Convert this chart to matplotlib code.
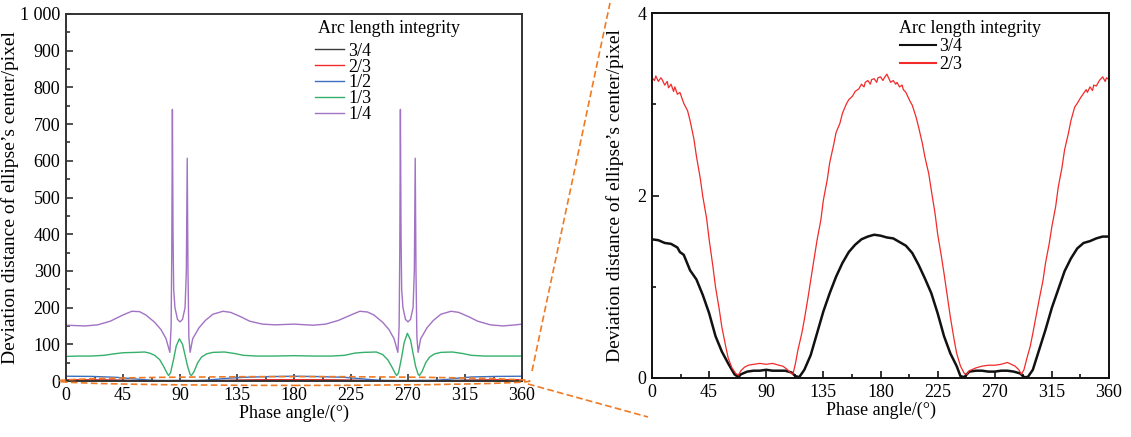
import matplotlib
matplotlib.use("Agg")
import matplotlib.pyplot as plt
from matplotlib.patches import Ellipse
from matplotlib.lines import Line2D
from matplotlib.ticker import MultipleLocator, FuncFormatter

plt.rcParams["font.family"] = ["Liberation Serif", "DejaVu Serif"]
plt.rcParams["mathtext.fontset"] = "stix"

# ---------------- data ----------------
# Arc length integrity 3/4
phase_34 = [0, 5, 10, 15, 20, 22, 25, 30, 35, 40, 45, 50, 55, 60, 65, 68, 70, 75, 80,
            85, 90, 95, 100, 105, 110, 113, 116, 120, 125, 130, 135, 140, 145, 150, 155,
            160, 165, 170, 175, 180, 185, 190, 195, 200, 205, 210, 215, 220, 225, 230,
            235, 240, 243, 246, 250, 255, 260, 265, 270, 275, 280, 285, 290, 293, 296,
            300, 305, 310, 315, 320, 325, 330, 335, 340, 345, 350, 355, 360]
dev_34 = [1.52, 1.51, 1.48, 1.47, 1.43, 1.38, 1.35, 1.18, 1.08, 0.91, 0.71, 0.46, 0.29,
          0.16, 0.04, 0.01, 0.04, 0.07, 0.08, 0.08, 0.09, 0.08, 0.08, 0.08, 0.06, 0.02,
          0.01, 0.09, 0.25, 0.49, 0.73, 0.93, 1.11, 1.26, 1.38, 1.46, 1.52, 1.55, 1.57,
          1.56, 1.54, 1.53, 1.49, 1.45, 1.37, 1.24, 1.09, 0.93, 0.71, 0.46, 0.27, 0.13,
          0.02, 0.01, 0.07, 0.08, 0.08, 0.07, 0.07, 0.08, 0.08, 0.07, 0.05, 0.01, 0.01,
          0.09, 0.31, 0.53, 0.77, 0.97, 1.17, 1.31, 1.42, 1.48, 1.50, 1.53, 1.55, 1.55]

# Arc length integrity 2/3
phase_23 = [0, 2, 3, 5, 7, 8, 10, 12, 13, 15, 17, 18, 20, 22, 25, 28, 30, 33, 35, 38, 40,
            43, 45, 48, 50, 53, 55, 58, 60, 63, 66, 68, 70, 73, 76, 80, 85, 90, 95, 100,
            103, 106, 109, 111, 113, 115, 118, 120, 123, 125, 128, 130, 133, 135, 138,
            140, 143, 145, 148, 150, 153, 155, 158, 160, 163, 165, 167, 168, 170, 172,
            173, 175, 177, 178, 180, 182, 183, 185, 187, 188, 190, 192, 193, 195, 197,
            198, 200, 203, 205, 208, 210, 213, 215, 218, 220, 223, 225, 228, 230, 233,
            235, 238, 240, 243, 246, 248, 250, 255, 260, 265, 270, 275, 280, 283, 286,
            289, 291, 293, 295, 298, 300, 303, 305, 308, 310, 313, 315, 318, 320, 323,
            325, 328, 330, 333, 335, 338, 340, 342, 343, 345, 347, 348, 350, 352, 353,
            355, 357, 358, 360]
dev_23 = [3.29, 3.26, 3.31, 3.25, 3.29, 3.27, 3.21, 3.25, 3.18, 3.22, 3.14, 3.19, 3.11,
          3.13, 3.01, 2.93, 2.82, 2.62, 2.43, 2.19, 1.99, 1.75, 1.52, 1.22, 1.00, 0.75,
          0.56, 0.35, 0.22, 0.11, 0.05, 0.03, 0.08, 0.12, 0.14, 0.15, 0.16, 0.15, 0.16,
          0.14, 0.13, 0.10, 0.06, 0.04, 0.16, 0.31, 0.49, 0.64, 0.89, 1.07, 1.33, 1.51,
          1.73, 1.95, 2.17, 2.36, 2.55, 2.69, 2.79, 2.90, 3.00, 3.05, 3.09, 3.14, 3.17,
          3.22, 3.19, 3.24, 3.26, 3.22, 3.27, 3.28, 3.24, 3.29, 3.30, 3.26, 3.29, 3.33,
          3.27, 3.24, 3.26, 3.22, 3.24, 3.19, 3.21, 3.16, 3.13, 3.04, 2.99, 2.86, 2.75,
          2.57, 2.42, 2.24, 2.06, 1.80, 1.58, 1.33, 1.15, 0.86, 0.67, 0.42, 0.27, 0.13,
          0.05, 0.04, 0.08, 0.11, 0.13, 0.14, 0.14, 0.15, 0.17, 0.15, 0.13, 0.09, 0.04,
          0.09, 0.20, 0.35, 0.49, 0.71, 0.86, 1.07, 1.26, 1.48, 1.66, 1.88, 2.09, 2.31,
          2.50, 2.68, 2.82, 2.97, 3.01, 3.08, 3.12, 3.16, 3.13, 3.19, 3.15, 3.21, 3.20,
          3.25, 3.27, 3.30, 3.25, 3.29, 3.27]

# Arc length integrity 1/2
phase_12 = [0, 20, 40, 50, 60, 70, 80, 90, 100, 110, 120, 130, 140, 160, 180, 200, 220,
            230, 240, 250, 260, 270, 280, 290, 300, 310, 320, 340, 360]
dev_12 = [13, 12.5, 10, 7, 4, 1.5, 1, 1.5, 1, 2, 5, 8, 10, 12, 13, 12, 10, 7, 4, 1.5, 1,
          1, 1.5, 1.5, 4, 8, 11, 12.5, 13]

# Arc length integrity 1/3
phase_13 = [0, 10, 20, 30, 38, 45, 55, 62, 66, 70, 74, 77, 80, 81, 82.5, 85, 87, 89.5,
            92, 94, 96, 98, 99, 101, 104, 107, 111, 116, 125, 133, 140, 150, 165, 180,
            195, 210, 220, 228, 235, 245, 250, 254, 257, 260, 261, 262.5, 265, 267,
            269.5, 272, 274, 276, 278, 279, 281, 284, 287, 291, 296, 305, 313, 320, 330,
            345, 360]
dev_13 = [67, 68, 68, 70, 74, 77, 78, 79, 76, 70, 58, 40, 20, 15, 22, 60, 95, 115, 100,
          70, 40, 18, 15, 25, 50, 65, 74, 78, 79, 75, 70, 68, 68, 69, 68, 68, 70, 76, 78,
          79, 72, 58, 40, 20, 15, 22, 65, 105, 130, 112, 75, 40, 18, 15, 25, 50, 65, 74,
          78, 79, 75, 70, 68, 68, 68]

# Arc length integrity 1/4
phase_14 = [0, 15, 25, 35, 45, 52, 58, 63, 70, 75, 79, 82, 83, 83.5, 84, 84.5, 85, 86,
            88, 90, 92, 94, 95, 95.7, 96.3, 97, 98, 100, 105, 110, 116, 124, 130, 138,
            145, 155, 165, 180, 195, 205, 215, 225, 232, 238, 243, 250, 255, 259, 262,
            263, 263.5, 264, 264.5, 265, 266, 268, 270, 272, 274, 275, 275.7, 276.3, 277,
            278, 280, 285, 290, 296, 304, 310, 318, 325, 335, 345, 355, 360]
dev_14 = [152, 150, 153, 163, 180, 190, 189, 180, 160, 140, 115, 78, 150, 350, 740, 400,
          250, 200, 168, 161, 168, 200, 300, 607, 300, 120, 78, 115, 145, 165, 182, 190,
          187, 175, 163, 155, 153, 155, 152, 155, 165, 180, 190, 188, 180, 160, 140, 115,
          78, 150, 350, 740, 400, 250, 200, 168, 161, 168, 200, 300, 607, 300, 120, 78,
          115, 145, 165, 182, 190, 187, 175, 163, 153, 150, 153, 155]

labels = ["3/4", "2/3", "1/2", "1/3", "1/4"]
legend_title = "Arc length integrity"
xticks = [0, 45, 90, 135, 180, 225, 270, 315, 360]

c34 = "#3a3a3a"
c23 = "#f22a2a"
c12 = "#3d6fc0"
c13 = "#35b06a"
c14 = "#a272c4"
orange = "#f07a24"

fs = 13
fs_ylab = 14

fig = plt.figure(figsize=(11.31, 4.37), dpi=100)
W, H = 1131, 437


def px_axes(x0, y0, x1, y1):
    return fig.add_axes([x0 / W, 1 - y1 / H, (x1 - x0) / W, (y1 - y0) / H])


ax1 = px_axes(66, 14, 522, 381)
ax2 = px_axes(652, 13, 1109, 378)


def style(ax, spine_color, ylabelpad):
    for s in ax.spines.values():
        s.set_linewidth(1.4)
        s.set_color(spine_color)
    ax.tick_params(which="both", direction="in", top=False, right=False,
                   labelsize=fs, color=spine_color, width=1.2, pad=4)
    ax.tick_params(which="major", length=5)
    ax.tick_params(which="minor", length=3)
    ax.set_xlim(0, 360)
    ax.set_xticks(xticks)
    ax.xaxis.set_minor_locator(MultipleLocator(22.5))
    ax.set_xlabel("Phase angle/(°)", fontsize=fs, labelpad=1)
    ax.set_ylabel("Deviation distance of ellipse’s center/pixel", fontsize=fs_ylab,
                  labelpad=ylabelpad)


def legend_block(ax, handles_xy, title_xy, spacing, hlen, pad):
    ax.text(title_xy[0], title_xy[1], legend_title, transform=ax.transAxes,
            fontsize=fs, ha="left", va="center")
    return ax.legend(loc="upper left", bbox_to_anchor=handles_xy, frameon=False,
                     fontsize=fs, handlelength=hlen, handletextpad=pad,
                     labelspacing=spacing, borderpad=0, borderaxespad=0)


# left panel: all five integrity levels
ax1.plot(phase_34, dev_34, color=c34, lw=1.6, label=labels[0])
ax1.plot(phase_23, dev_23, color=c23, lw=1.0, label=labels[1])
ax1.plot(phase_12, dev_12, color=c12, lw=1.0, label=labels[2])
ax1.plot(phase_13, dev_13, color=c13, lw=1.0, label=labels[3])
ax1.plot(phase_14, dev_14, color=c14, lw=1.0, label=labels[4])
style(ax1, "#333333", 0.5)
ax1.set_ylim(0, 1000)
ax1.yaxis.set_major_locator(MultipleLocator(100))
ax1.yaxis.set_minor_locator(MultipleLocator(50))
ax1.yaxis.set_major_formatter(FuncFormatter(
    lambda v, p: f"{int(v):,}".replace(",", " ")))
leg1 = legend_block(ax1, (0.546, 0.922), (0.553, 0.960), -0.06, 1.6, 0.25)
for h in leg1.get_lines():
    h.set_linewidth(1.0)

# right panel: zoom on the two highest integrity levels
ax2.plot(phase_34, dev_34, color="#111111", lw=1.8, label=labels[0])
ax2.plot(phase_23, dev_23, color=c23, lw=0.9, label=labels[1])
style(ax2, "#111111", 10)
ax2.set_ylim(0, 4)
ax2.set_yticks([0, 2, 4])
ax2.yaxis.set_minor_locator(MultipleLocator(1))
leg2 = legend_block(ax2, (0.543, 0.932), (0.540, 0.957), 0.07, 2.0, 0.15)
for h in leg2.get_lines():
    h.set_linewidth(1.5)

# dashed zoom indicator
ax1.add_patch(Ellipse((180, 0), 372, 24, fill=False, ls=(0, (4, 2)), lw=1.2,
                      ec=orange, clip_on=False, zorder=5))
for (xa, ya), (xb, yb) in [((532, 371), (610, 3)), ((528, 384), (648, 417))]:
    fig.add_artist(Line2D([xa / W, xb / W], [1 - ya / H, 1 - yb / H],
                          transform=fig.transFigure, color=orange, lw=1.2,
                          ls=(0, (4, 2))))

fig.savefig("out.png", dpi=100)
